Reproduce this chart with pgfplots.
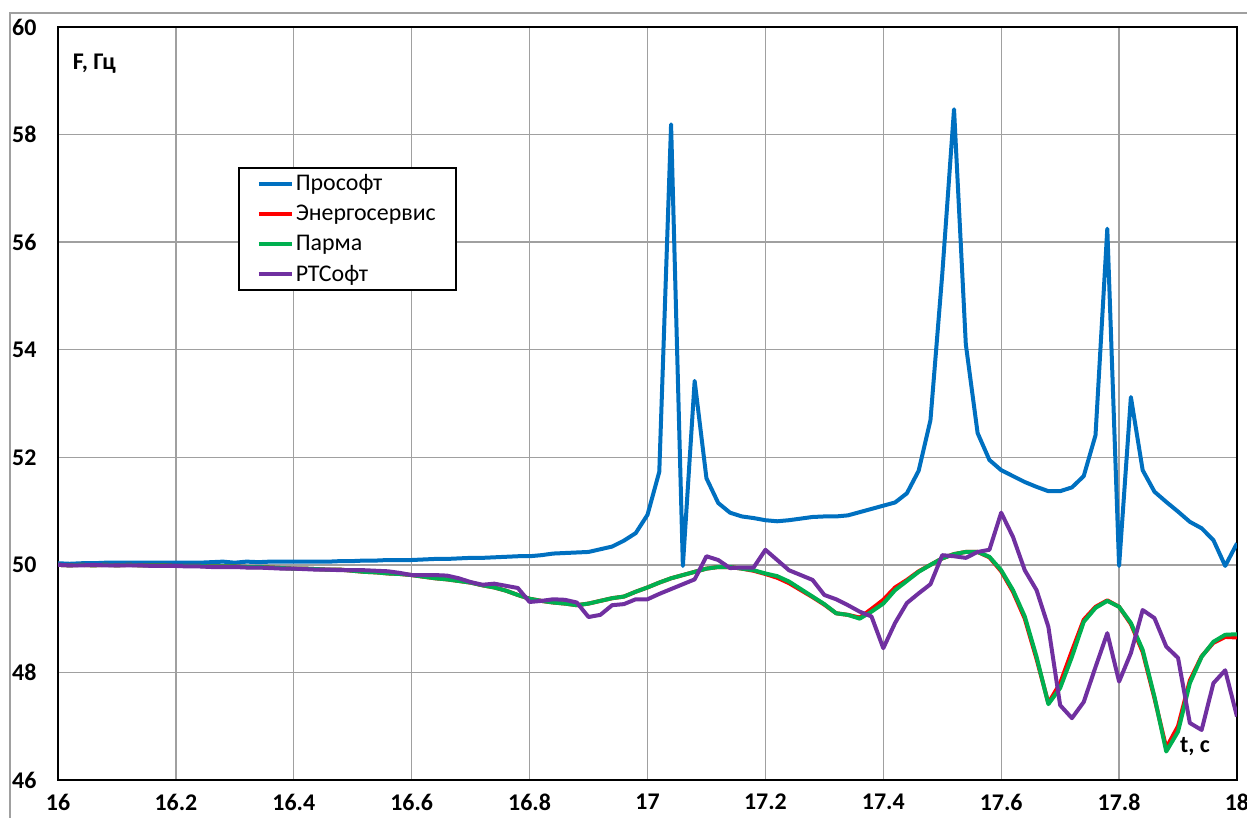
\documentclass[border=0pt]{standalone}
\usepackage{pgfplots}
\usepackage{pgfplotstable}
\pgfplotsset{compat=1.18}
\usepackage{fontspec}
\setmainfont{Carlito}
\definecolor{cBlue}{RGB}{0,112,192}
\definecolor{cRed}{RGB}{255,0,0}
\definecolor{cGreen}{RGB}{0,176,80}
\definecolor{cPurple}{RGB}{112,48,160}
\definecolor{cGrid}{RGB}{160,160,160}

\pgfplotstableread{
t      pro     ener    parma   rts
16.00  50.03   50.00   50.00   50.00
16.02  50.02   49.99   49.99   49.99
16.04  50.03   50.00   50.00   49.99
16.06  50.03   49.99   49.99   50.00
16.08  50.04   50.00   50.00   49.99
16.10  50.04   49.99   49.99   49.99
16.12  50.04   50.00   50.00   49.99
16.14  50.04   49.99   49.99   49.99
16.16  50.04   49.99   49.99   49.98
16.18  50.04   49.99   49.99   49.98
16.20  50.04   49.98   49.98   49.98
16.22  50.04   49.98   49.98   49.97
16.24  50.04   49.98   49.98   49.97
16.26  50.05   49.97   49.97   49.96
16.28  50.06   49.97   49.97   49.96
16.30  50.04   49.97   49.97   49.96
16.32  50.06   49.96   49.96   49.95
16.34  50.05   49.96   49.96   49.95
16.36  50.06   49.95   49.95   49.94
16.38  50.06   49.94   49.94   49.93
16.40  50.06   49.93   49.93   49.93
16.42  50.06   49.93   49.93   49.92
16.44  50.06   49.92   49.92   49.91
16.46  50.06   49.91   49.91   49.91
16.48  50.07   49.91   49.91   49.90
16.50  50.07   49.89   49.89   49.90
16.52  50.08   49.87   49.87   49.90
16.54  50.08   49.86   49.86   49.89
16.56  50.09   49.84   49.84   49.88
16.58  50.09   49.83   49.83   49.85
16.60  50.09   49.81   49.81   49.81
16.62  50.10   49.78   49.78   49.81
16.64  50.11   49.75   49.75   49.81
16.66  50.11   49.73   49.73   49.80
16.68  50.12   49.70   49.70   49.75
16.70  50.13   49.67   49.67   49.68
16.72  50.13   49.62   49.62   49.63
16.74  50.14   49.58   49.58   49.65
16.76  50.15   49.52   49.52   49.61
16.78  50.16   49.44   49.44   49.57
16.80  50.16   49.37   49.37   49.31
16.82  50.18   49.33   49.33   49.33
16.84  50.21   49.30   49.30   49.36
16.86  50.22   49.28   49.28   49.35
16.88  50.23   49.25   49.25   49.30
16.90  50.24   49.28   49.28   49.03
16.92  50.29   49.33   49.33   49.07
16.94  50.34   49.38   49.38   49.25
16.96  50.45   49.41   49.41   49.27
16.98  50.59   49.50   49.50   49.36
17.00  50.93   49.58   49.58   49.36
17.02  51.73   49.67   49.67   49.46
17.04  58.19   49.75   49.75   49.55
17.06  49.98   49.81   49.81   49.64
17.08  53.42   49.87   49.87   49.73
17.10  51.61   49.93   49.93   50.16
17.12  51.15   49.96   49.96   50.09
17.14  50.97   49.96   49.96   49.94
17.16  50.90   49.93   49.93   49.95
17.18  50.87   49.89   49.90   49.95
17.20  50.83   49.83   49.84   50.28
17.22  50.81   49.76   49.79   50.09
17.24  50.83   49.66   49.69   49.90
17.26  50.86   49.53   49.55   49.81
17.28  50.89   49.40   49.41   49.72
17.30  50.90   49.26   49.27   49.44
17.32  50.90   49.10   49.10   49.36
17.34  50.92   49.07   49.07   49.25
17.36  50.98   49.02   49.00   49.13
17.38  51.04   49.18   49.13   49.04
17.40  51.10   49.35   49.28   48.45
17.42  51.16   49.58   49.53   48.92
17.44  51.33   49.72   49.70   49.29
17.46  51.75   49.88   49.87   49.47
17.48  52.69   50.00   50.00   49.64
17.50  55.40   50.12   50.12   50.18
17.52  58.47   50.20   50.20   50.16
17.54  54.10   50.24   50.24   50.13
17.56  52.45   50.24   50.24   50.24
17.58  51.95   50.14   50.15   50.28
17.60  51.76   49.88   49.90   50.97
17.62  51.65   49.50   49.53   50.52
17.64  51.54   49.00   49.04   49.90
17.66  51.45   48.25   48.29   49.53
17.68  51.37   47.43   47.41   48.85
17.70  51.37   47.80   47.71   47.39
17.72  51.44   48.40   48.29   47.15
17.74  51.65   48.98   48.94   47.45
17.76  52.41   49.22   49.20   48.10
17.78  56.25   49.34   49.33   48.73
17.80  49.98   49.22   49.22   47.83
17.82  53.12   48.90   48.92   48.36
17.84  51.76   48.38   48.42   49.16
17.86  51.36   47.52   47.55   49.01
17.88  51.17   46.60   46.53   48.48
17.90  50.99   47.00   46.90   48.27
17.92  50.80   47.85   47.80   47.06
17.94  50.68   48.30   48.29   46.93
17.96  50.46   48.55   48.57   47.80
17.98  49.98   48.66   48.70   48.04
18.00  50.40   48.65   48.71   47.18
}\datatable

\begin{document}
\begin{tikzpicture}[x=1bp,y=1bp]
\begin{axis}[
  at={(58bp,38bp)}, anchor=south west,
  scale only axis,
  width=1179bp, height=753bp,
  xmin=16, xmax=18, ymin=46, ymax=60,
  xtick={16,16.2,16.4,16.6,16.8,17,17.2,17.4,17.6,17.8,18},
  xticklabels={16,16.2,16.4,16.6,16.8,17,17.2,17.4,17.6,17.8,18},
  ytick={46,48,50,52,54,56,58,60},
  yticklabels={46,48,50,52,54,56,58,60},
  /pgf/number format/assume math mode=true,
  major tick length=0pt,
  tick label style={font=\fontsize{24}{28}\selectfont\bfseries},
  xticklabel style={inner sep=0pt, anchor=north, yshift=-14bp},
  yticklabel style={inner sep=0pt, anchor=west, xshift=-46bp},
  grid=major,
  major grid style={cGrid, line width=1.3bp},
  axis line style={black, line width=2.5bp},
  every axis plot/.append style={line width=4bp, line join=round, mark=none},
  legend cell align=left,
  legend image code/.code={\draw[#1] (0bp,0bp) -- (33bp,0bp);},
  legend style={at={(0.1527,0.814)}, anchor=north west, draw=black, line width=1.5bp,
    font=\fontsize{24}{29}\selectfont, inner xsep=18bp, inner ysep=5bp, row sep=9bp,
    /tikz/every even column/.append style={column sep=2bp}},
  clip=true,
]
\addplot[cBlue] table[x=t, y=pro] {\datatable};
\addlegendentry{Прософт}
\addplot[cRed] table[x=t, y=ener] {\datatable};
\addlegendentry{Энергосервис}
\addplot[cGreen] table[x=t, y=parma] {\datatable};
\addlegendentry{Парма}
\addplot[cPurple] table[x=t, y=rts] {\datatable};
\addlegendentry{РТСофт}
\node[anchor=west, inner sep=0pt, font=\fontsize{24}{28}\selectfont\bfseries] at (axis cs:16.025,59.31) {F, Гц};
\node[anchor=west, inner sep=0pt, font=\fontsize{24}{28}\selectfont\bfseries] at (axis cs:17.903,46.62) {t, c};
\end{axis}
\draw[cGrid, line width=1.5bp] (10bp,0bp) -- (10bp,805bp) -- (1247bp,805bp);
\pgfresetboundingbox
\path[use as bounding box] (0,0) rectangle (1247bp,818bp);
\end{tikzpicture}
\end{document}
